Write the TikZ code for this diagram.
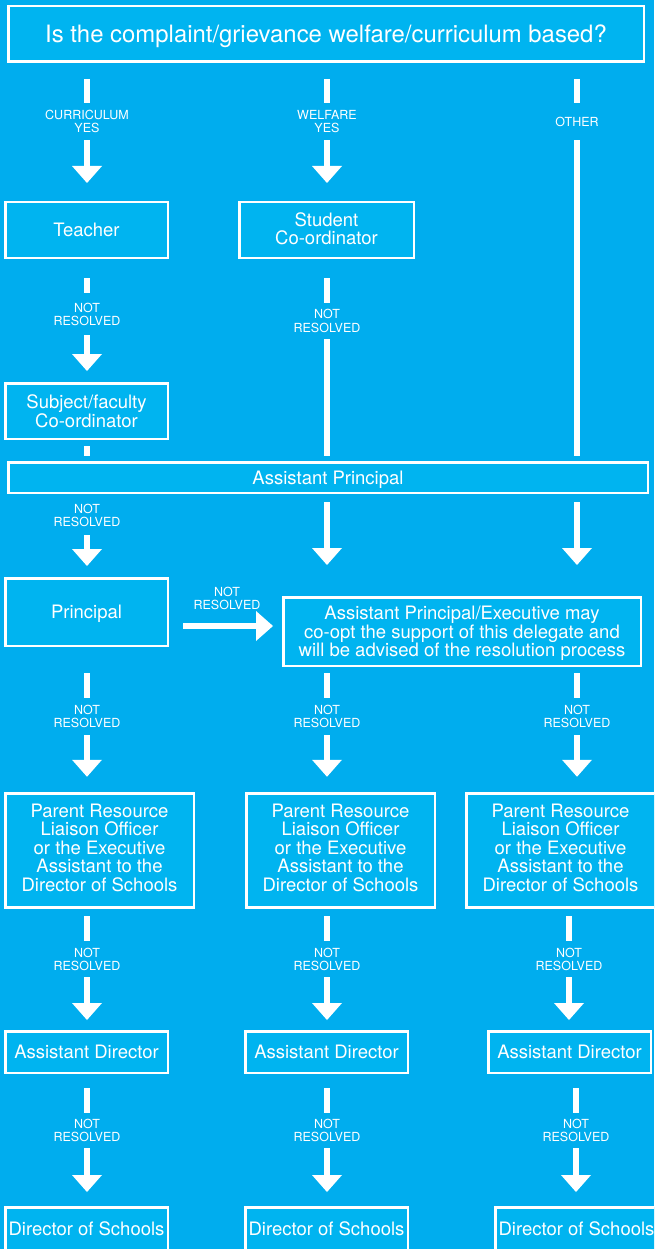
\documentclass[tikz,border=0pt]{standalone}
\usepackage{fontspec}
\setmainfont{TeX Gyre Heros}
\usetikzlibrary{arrows.meta}
\definecolor{bgc}{HTML}{00ADEE}
\definecolor{boxc}{HTML}{00B4F0}
\begin{document}
\begin{tikzpicture}[x=1pt,y=-1pt,
  box/.style={draw=white,line width=2.5pt,fill=boxc,text=white,align=center,inner sep=0pt,
    text depth=0pt,font=\fontsize{18.5}{18.5}\selectfont},
  lab/.style={text=white,align=center,inner sep=0pt,minimum width=10pt,
    font=\fontsize{12.5}{13}\selectfont},
  ln/.style={draw=white,line width=5.5pt},
  arr/.style={draw=white,line width=5.5pt,-{Triangle[width=30pt,length=17pt,line width=0pt]},fill=white}]
\useasboundingbox (0,0) rectangle (654,1249);
\clip (0,0) rectangle (654,1249);
\fill[bgc] (0,0) rectangle (654,1249);

% boxes
\node[box,minimum width=635.5pt,minimum height=55.5pt,font=\fontsize{23.9}{23.9}\selectfont] (q) at (326,34) {Is the complaint/grievance welfare/curriculum based?};
\node[box,minimum width=162.5pt,minimum height=55.5pt,text depth=-2pt] (teacher) at (86.5,230) {Teacher};
\node[box,minimum width=174.5pt,minimum height=55.5pt,text depth=3pt] (student) at (326.5,230) {Student\\Co-ordinator};
\node[box,minimum width=162.5pt,minimum height=55.5pt,text depth=-3pt] (subject) at (86.5,411) {Subject/faculty\\Co-ordinator};
\node[box,minimum width=639.5pt,minimum height=30.5pt] (ap) at (328,477.5) {Assistant Principal};
\node[box,minimum width=162.5pt,minimum height=67.5pt] (principal) at (86.5,612) {Principal};
\node[box,minimum width=357.5pt,minimum height=68.5pt,text depth=-1pt] (ape) at (462,631.5) {Assistant Principal/Executive may\\co-opt the support of this delegate and\\will be advised of the resolution process};
\node[box,minimum width=188.5pt,minimum height=114pt,text depth=6pt] (prl1) at (99.5,850.5) {Parent Resource\\Liaison Officer\\or the Executive\\Assistant to the\\Director of Schools};
\node[box,minimum width=188.5pt,minimum height=114pt,text depth=6pt] (prl2) at (340.5,850.5) {Parent Resource\\Liaison Officer\\or the Executive\\Assistant to the\\Director of Schools};
\node[box,minimum width=188.5pt,minimum height=114pt,text depth=6pt] (prl3) at (560.5,850.5) {Parent Resource\\Liaison Officer\\or the Executive\\Assistant to the\\Director of Schools};
\node[box,minimum width=162.5pt,minimum height=41.5pt] (ad1) at (86.5,1052) {Assistant Director};
\node[box,minimum width=162.5pt,minimum height=41.5pt] (ad2) at (326.5,1052) {Assistant Director};
\node[box,minimum width=162.5pt,minimum height=41.5pt] (ad3) at (569.5,1052) {Assistant Director};
\node[box,minimum width=162.5pt,minimum height=43.5pt] (ds1) at (86.5,1229) {Director of Schools};
\node[box,minimum width=162.5pt,minimum height=43.5pt] (ds2) at (326.5,1229) {Director of Schools};
\node[box,minimum width=162.5pt,minimum height=43.5pt] (ds3) at (576.5,1229) {Director of Schools};

% labels
\node[lab,minimum height=37pt] (lcur) at (87,121.5) {CURRICULUM\\YES};
\node[lab,minimum height=37pt] (lwel) at (327,121.5) {WELFARE\\YES};
\node[lab,minimum height=37pt] (loth) at (577,121.5) {OTHER};
\node[lab,minimum height=42pt] (lnr1) at (87,314) {NOT\\RESOLVED};
\node[lab,minimum height=36pt,font=\fontsize{12.5}{14}\selectfont] (lnr2) at (327,321) {NOT\\RESOLVED};
\node[lab,minimum height=39pt] (lnr3) at (87,515.5) {NOT\\RESOLVED};
\node[lab] (lh) at (227,598.5) {NOT\\RESOLVED};
\node[lab,minimum height=37pt] (r5a) at (87,716.5) {NOT\\RESOLVED};
\node[lab,minimum height=37pt] (r5b) at (327,716.5) {NOT\\RESOLVED};
\node[lab,minimum height=37pt] (r5c) at (577,716.5) {NOT\\RESOLVED};
\node[lab,minimum height=36pt] (r6a) at (87,959) {NOT\\RESOLVED};
\node[lab,minimum height=36pt] (r6b) at (327,959) {NOT\\RESOLVED};
\node[lab,minimum height=36pt] (r6c) at (569,959) {NOT\\RESOLVED};
\node[lab,minimum height=35pt] (r7a) at (87,1130.5) {NOT\\RESOLVED};
\node[lab,minimum height=35pt] (r7b) at (327,1130.5) {NOT\\RESOLVED};
\node[lab,minimum height=35pt] (r7c) at (576,1130.5) {NOT\\RESOLVED};
\coordinate (hy) at (0,626);

% row 1
\draw[ln,shorten <=16pt] (q.south -| lcur) -- (lcur.north);
\draw[arr,shorten >=18pt] (lcur.south) -- (teacher.north -| lcur);
\draw[ln,shorten <=16pt] (q.south -| lwel) -- (lwel.north);
\draw[arr,shorten >=18pt] (lwel.south) -- (student.north -| lwel);
\draw[ln,shorten <=16pt] (q.south -| loth) -- (loth.north);
\draw[ln,shorten >=5pt] (loth.south) -- (ap.north -| loth);
% row 2
\draw[ln,shorten <=19pt] (teacher.south -| lnr1) -- (lnr1.north);
\draw[arr,shorten >=11pt] (lnr1.south) -- (subject.north -| lnr1);
\draw[ln,shorten <=19pt] (student.south -| lnr2) -- (lnr2.north);
\draw[ln,shorten >=5pt] (lnr2.south) -- (ap.north -| lnr2);
\draw[ln,shorten <=6pt,shorten >=5pt] (subject.south -| lnr1) -- (ap.north -| lnr1);
% row 3
\draw[arr,shorten >=11pt] (lnr3.south) -- (principal.north -| lnr3);
\draw[arr,shorten <=8pt,shorten >=31pt] (ap.south -| lnr2) -- (ape.north -| lnr2);
\draw[arr,shorten <=8pt,shorten >=31pt] (ap.south -| loth) -- (ape.north -| loth);
% horizontal
\draw[arr,shorten <=14pt,shorten >=9pt] (principal.east |- hy) -- (ape.west |- hy);
% row 5
\draw[ln,shorten <=26pt] (principal.south -| r5a) -- (r5a.north);
\draw[arr,shorten >=15.5pt] (r5a.south) -- (prl1.north -| r5a);
\draw[ln,shorten <=6pt] (ape.south -| r5b) -- (r5b.north);
\draw[arr,shorten >=15.5pt] (r5b.south) -- (prl2.north -| r5b);
\draw[ln,shorten <=6pt] (ape.south -| r5c) -- (r5c.north);
\draw[arr,shorten >=15.5pt] (r5c.south) -- (prl3.north -| r5c);
% row 6
\draw[ln,shorten <=7.5pt] (prl1.south -| r6a) -- (r6a.north);
\draw[arr,shorten >=10pt] (r6a.south) -- (ad1.north -| r6a);
\draw[ln,shorten <=7.5pt] (prl2.south -| r6b) -- (r6b.north);
\draw[arr,shorten >=10pt] (r6b.south) -- (ad2.north -| r6b);
\draw[ln,shorten <=7.5pt] (prl3.south -| r6c) -- (r6c.north);
\draw[arr,shorten >=10pt] (r6c.south) -- (ad3.north -| r6c);
% row 7
\draw[ln,shorten <=14pt] (ad1.south -| r7a) -- (r7a.north);
\draw[arr,shorten >=14pt] (r7a.south) -- (ds1.north -| r7a);
\draw[ln,shorten <=14pt] (ad2.south -| r7b) -- (r7b.north);
\draw[arr,shorten >=14pt] (r7b.south) -- (ds2.north -| r7b);
\draw[ln,shorten <=14pt] (ad3.south -| r7c) -- (r7c.north);
\draw[arr,shorten >=14pt] (r7c.south) -- (ds3.north -| r7c);
\end{tikzpicture}
\end{document}
